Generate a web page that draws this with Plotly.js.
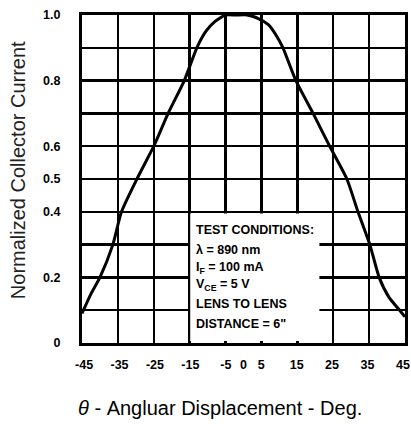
<!DOCTYPE html>
<html>
<head>
<meta charset="utf-8">
<script src="https://cdn.plot.ly/plotly-3.0.1.min.js"></script>
<style>
  html, body { margin: 0; padding: 0; background: #fff; }
  #chart { width: 411px; height: 426px; }
</style>
</head>
<body>
<div id="chart"></div>
<script>
// Angular displacement (deg) and normalized collector current
const angleDeg = [-45, -44.6, -42.5, -40, -36.4, -34, -29.7, -25, -21, -16.5, -13, -10.5, -8, -5, -2, 1, 4, 7, 9, 11, 14.6, 19.4, 24, 28.8, 31.9, 35.2, 37.8, 40.5, 43.5, 45];
const relCurrent = [0.09, 0.1, 0.15, 0.2, 0.3, 0.4, 0.5, 0.6, 0.7, 0.8, 0.9, 0.95, 0.98, 1.0, 1.0, 1.0, 0.99, 0.97, 0.94, 0.9, 0.8, 0.7, 0.6, 0.5, 0.4, 0.3, 0.2, 0.14, 0.1, 0.08];

const xTickVals = [-45, -35, -25, -15, -5, 0, 5, 15, 25, 35, 45];
const xTickText = ["-45", "-35", "-25", "-15", "-5", "0", "5", "15", "25", "35", "45"];
const yTickVals = [0, 0.2, 0.4, 0.5, 0.6, 0.8, 1.0];
const yTickText = ["0", "0.2", "0.4", "0.5", "0.6", "0.8", "1.0"];

const xTitle = "<i>θ</i> - Angluar Displacement - Deg.";
const yTitle = "Normalized Collector Current";
const testConditions = ["TEST CONDITIONS:", "λ = 890 nm", "I<sub>F</sub> = 100 mA", "V<sub>CE</sub> = 5 V", "LENS TO LENS", "DISTANCE = 6\""];

const tickFont = { family: "Liberation Sans, Arial, sans-serif", size: 12.5, color: "#000", weight: "bold" };
const boxFont = { family: "Liberation Sans, Arial, sans-serif", size: 12.5, color: "#000", weight: "bold" };

const traces = [
  {
    type: "scatter", mode: "lines",
    x: angleDeg, y: relCurrent,
    xaxis: "x", yaxis: "y",
    line: { color: "#000", width: 3, shape: "spline", smoothing: 0.6 },
    hoverinfo: "skip", showlegend: false
  },
  {
    type: "scatter", mode: "lines",
    x: [0], y: [0.5], opacity: 0,
    xaxis: "x2", yaxis: "y",
    hoverinfo: "skip", showlegend: false
  }
];

// text box: white panel, then one annotation per line
const boxTop = 0.395, boxBottom = 0.006, boxLeft = 0.335, boxRight = 0.735;
const lineTops = [0.345, 0.285, 0.23, 0.178, 0.118, 0.058];

const annotations = testConditions.map((t, i) => ({
  xref: "paper", yref: "paper", x: boxLeft + 0.012, y: lineTops[i],
  xanchor: "left", yanchor: "middle", showarrow: false, align: "left",
  text: t, font: boxFont
}));

annotations.push(
  {
    xref: "paper", yref: "paper", x: 0.427, y: -0.198,
    xanchor: "center", yanchor: "middle", showarrow: false,
    text: xTitle,
    font: { family: "Liberation Sans, Arial, sans-serif", size: 20, color: "#000" }
  },
  {
    xref: "paper", yref: "paper", x: -0.198, y: 0.527,
    xanchor: "center", yanchor: "middle", showarrow: false,
    textangle: -90,
    text: yTitle,
    font: { family: "Liberation Sans, Arial, sans-serif", size: 20, color: "#222" }
  }
);

const layout = {
  width: 411, height: 426,
  margin: { l: 82, r: 6, t: 15, b: 83 },
  paper_bgcolor: "#fff", plot_bgcolor: "#fff",
  showlegend: false,
  xaxis: {
    range: [-45, 45],
    tickmode: "linear", tick0: -45, dtick: 10,
    showticklabels: false, ticks: "",
    showgrid: true, gridcolor: "#000", gridwidth: 2.5,
    zeroline: false,
    showline: true, linecolor: "#000", linewidth: 3, mirror: true
  },
  xaxis2: {
    overlaying: "x", side: "bottom",
    range: [-45.6, 45.6],
    tickmode: "array", tickvals: xTickVals, ticktext: xTickText,
    tickfont: tickFont, ticks: "", ticklabelstandoff: 12,
    ticklabeloverflow: "allow",
    showgrid: false, zeroline: false, showline: false
  },
  yaxis: {
    range: [0, 1],
    tickmode: "array", tickvals: yTickVals, ticktext: yTickText,
    tickfont: tickFont, ticks: "", ticklabelstandoff: 16,
    showgrid: true, gridcolor: "#000", gridwidth: 2.5,
    minor: { tickmode: "linear", tick0: 0, dtick: 0.1, showgrid: true, gridcolor: "#000", gridwidth: 2.5, ticks: "" },
    zeroline: false,
    showline: true, linecolor: "#000", linewidth: 3, mirror: true
  },
  shapes: [
    {
      type: "rect", xref: "paper", yref: "paper", layer: "above",
      x0: boxLeft, x1: boxRight, y0: boxBottom, y1: boxTop,
      fillcolor: "#fff", line: { width: 0 }
    }
  ],
  annotations: annotations
};

Plotly.newPlot("chart", traces, layout, { staticPlot: true, displayModeBar: false });
</script>
</body>
</html>
